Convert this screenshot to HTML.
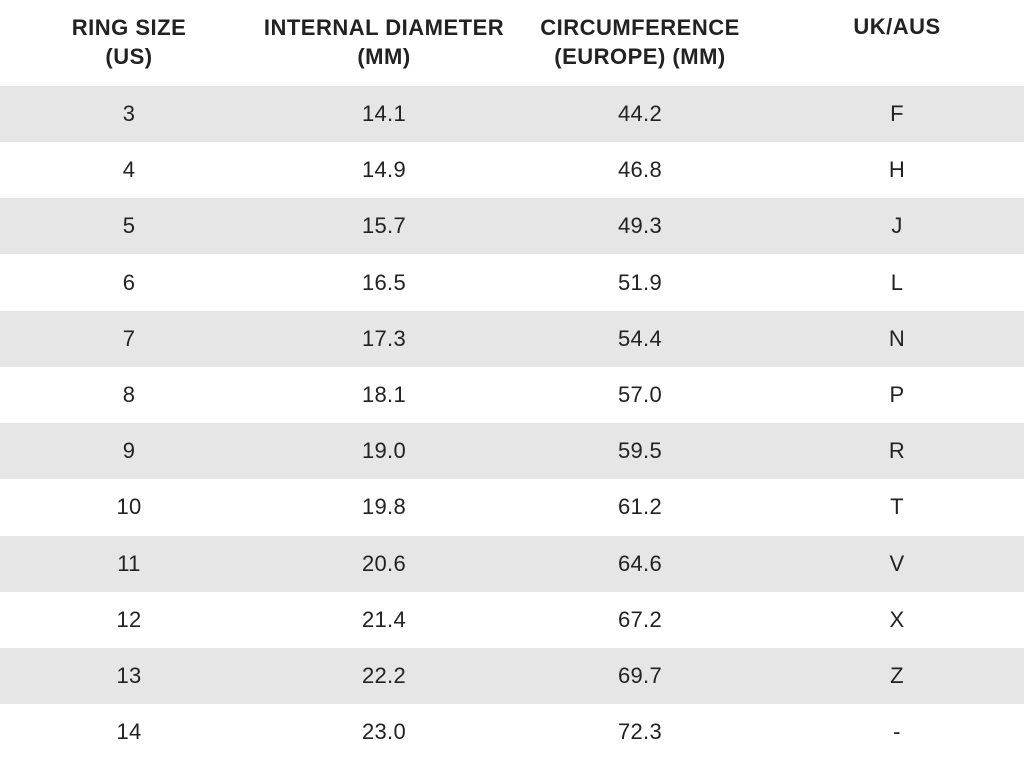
<!DOCTYPE html>
<html><head><style>
body{margin:0;width:1024px;height:767px;background:#fff;overflow:hidden;font-family:"Liberation Sans",sans-serif;color:#222;position:relative}
.h{position:absolute;top:13px;font-weight:bold;font-size:22px;letter-spacing:0.5px;line-height:29px;text-align:center;width:320px;margin-left:-160px}
.r{position:absolute;left:0;width:1024px;height:56px}
.g{background:#e6e6e6}
.c{position:absolute;top:0;line-height:56px;font-size:22px;letter-spacing:0.3px;width:200px;margin-left:-100px;text-align:center}
</style></head><body>
<div class="h" style="left:129px">RING SIZE<br>(US)</div>
<div class="h" style="left:384px">INTERNAL DIAMETER<br>(MM)</div>
<div class="h" style="left:640px">CIRCUMFERENCE<br>(EUROPE) (MM)</div>
<div class="h" style="left:897px;top:12px">UK/AUS</div>
<div id="t"></div>
<script>
var d=[[3,"14.1","44.2","F"],[4,"14.9","46.8","H"],[5,"15.7","49.3","J"],[6,"16.5","51.9","L"],[7,"17.3","54.4","N"],[8,"18.1","57.0","P"],[9,"19.0","59.5","R"],[10,"19.8","61.2","T"],[11,"20.6","64.6","V"],[12,"21.4","67.2","X"],[13,"22.2","69.7","Z"],[14,"23.0","72.3","-"]];
var h="",xs=[129,384,640,897];
d.forEach(function(r,i){var y=86+i*56.2;h+='<div class="r'+(i%2==0?' g':'')+'" style="top:'+y+'px">';r.forEach(function(v,j){h+='<div class="c" style="left:'+xs[j]+'px">'+v+'</div>'});h+='</div>'});
document.getElementById("t").innerHTML=h;
</script>
</body></html>
